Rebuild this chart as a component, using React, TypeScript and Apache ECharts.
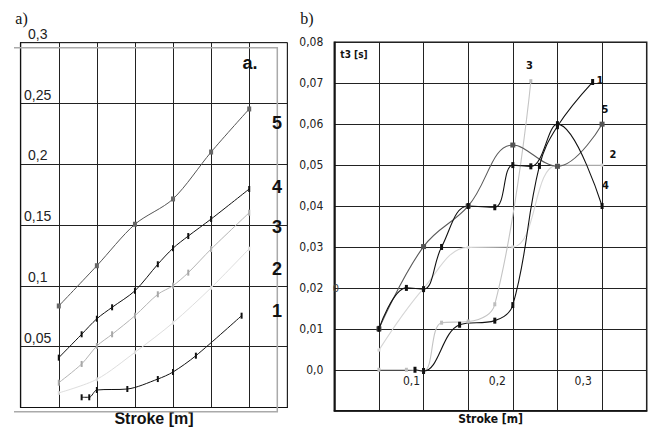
import React, { useEffect, useRef } from "react";
import * as echarts from "echarts";

// ---------- panel a) ----------
const leftX5 = [0.05, 0.1, 0.15, 0.2, 0.25, 0.3];
const left5 = [0.0835, 0.1166, 0.1507, 0.1715, 0.2101, 0.2455];
const leftX4 = [0.05, 0.08, 0.1, 0.12, 0.15, 0.18, 0.2, 0.22, 0.25, 0.3];
const left4 = [0.041, 0.0602, 0.073, 0.0824, 0.096, 0.1178, 0.131, 0.141, 0.155, 0.1797];
const leftX3 = [0.05, 0.08, 0.1, 0.12, 0.15, 0.18, 0.2, 0.22, 0.25, 0.3];
const left3 = [0.0204, 0.0358, 0.0506, 0.0602, 0.0755, 0.0931, 0.1002, 0.1109, 0.1303, 0.1602];
const leftX2 = [0.05, 0.1, 0.15, 0.2, 0.25, 0.3];
const left2 = [0.012, 0.0232, 0.0454, 0.0697, 0.0985, 0.1306];
const leftX1 = [0.08, 0.09, 0.1, 0.14, 0.18, 0.2, 0.23, 0.29];
const left1 = [0.0084, 0.0084, 0.0144, 0.0152, 0.0234, 0.0292, 0.0426, 0.0755];

// ---------- panel b) ----------
const rightX1 = [0.104, 0.114, 0.156, 0.197, 0.218, 0.249, 0.27, 0.311];
const right1 = [0, -0.0003, 0.011, 0.012, 0.0158, 0.0498, 0.0595, 0.0703];
const rightX2 = [0.062, 0.114, 0.166, 0.218, 0.27, 0.322];
const right2 = [0.0048, 0.0199, 0.0299, 0.03, 0.05, 0.05];
const rightX3 = [0.062, 0.094, 0.114, 0.135, 0.166, 0.197, 0.239];
const right3 = [0, 0, -0.0003, 0.0115, 0.0118, 0.016, 0.0705];
const rightX4 = [0.062, 0.094, 0.114, 0.135, 0.166, 0.197, 0.218, 0.239, 0.27, 0.322];
const right4 = [0.01, 0.02, 0.0197, 0.03, 0.04, 0.0397, 0.05, 0.0497, 0.06, 0.04];
const rightX5 = [0.062, 0.114, 0.166, 0.218, 0.27, 0.322];
const right5 = [0.01, 0.0301, 0.04, 0.0549, 0.0497, 0.06];

const rightXTicks = [0.1, 0.2, 0.3];
const seriesNames = ["1", "2", "3", "4", "5"];

const SANS = "'Liberation Sans', Arial, Helvetica, sans-serif";
const NARROW = "'Liberation Sans Narrow', 'Arial Narrow', 'DejaVu Sans Condensed', 'Liberation Sans', Arial, sans-serif";
const SERIF = "'Liberation Serif', 'Times New Roman', serif";

const zip = (xs: number[], ys: number[]) => xs.map((x, i) => [x, ys[i]]);

function App() {
  const ref = useRef<HTMLDivElement>(null);

  useEffect(() => {
    if (!ref.current) return;
    const chart = echarts.init(ref.current, null, { renderer: "svg" });

    const gridLine = { show: true, lineStyle: { color: "#222", width: 1 } };

    const mkLeft = (name: string, xs: number[], ys: number[], color: string, sym: number[], symColor: string, width = 1) => ({
      name,
      type: "line",
      xAxisIndex: 0,
      yAxisIndex: 0,
      data: zip(xs, ys),
      smooth: 0.3,
      symbol: "rect",
      symbolSize: sym,
      showSymbol: true,
      lineStyle: { color, width },
      itemStyle: { color: symColor },
      z: 3,
    });
    const mkRight = (name: string, xs: number[], ys: number[], color: string, sym: number[], symColor: string, width = 1.1) => ({
      name,
      type: "line",
      xAxisIndex: 2,
      yAxisIndex: 1,
      data: zip(xs, ys),
      smooth: 0.4,
      symbol: "rect",
      symbolSize: sym,
      showSymbol: true,
      lineStyle: { color, width },
      itemStyle: { color: symColor },
      z: 3,
    });

    const label = (text: string, x: number, y: number, font: string, fill = "#111") => ({
      type: "text",
      x,
      y,
      silent: true,
      style: { text, font, fill, textAlign: "center", textVerticalAlign: "middle", align: "center", verticalAlign: "middle" },
      z: 10,
    });

    chart.setOption({
      animation: false,
      backgroundColor: "#fff",
      grid: [
        {
          left: 20.7, top: 42.7, width: 266.6, height: 364.8, show: true,
          borderColor: "#222", borderWidth: 1, backgroundColor: "transparent",
          containLabel: false, outerBoundsMode: "none",
        },
        {
          left: 334.3, top: 42.3, width: 312.4, height: 368.4, show: true,
          borderColor: "#111", borderWidth: 1.5, backgroundColor: "transparent",
          containLabel: false, outerBoundsMode: "none",
        },
      ],
      xAxis: [
        {
          gridIndex: 0,
          type: "value",
          position: "bottom",
          min: 0,
          max: 0.35,
          interval: 0.05,
          axisLine: { show: true, onZero: false, lineStyle: { color: "#111", width: 1.2 } },
          axisTick: { show: false },
          axisLabel: { show: false },
          splitLine: gridLine,
          name: "Stroke [m]",
          nameLocation: "middle",
          nameGap: 3,
          nameTextStyle: { fontFamily: SANS, fontWeight: "bold", fontSize: 16, lineHeight: 15, color: "#111" },
        },
        {
          gridIndex: 1,
          type: "value",
          position: "bottom",
          min: 0,
          max: 7,
          interval: 1,
          axisLine: { show: true, onZero: false, lineStyle: { color: "#111", width: 1.5 } },
          axisTick: { show: false },
          axisLabel: { show: false },
          splitLine: gridLine,
          name: "Stroke [m]",
          nameLocation: "middle",
          nameGap: 2,
          nameTextStyle: { fontFamily: NARROW, fontWeight: "bold", fontSize: 12, lineHeight: 13, color: "#111" },
        },
        {
          gridIndex: 1,
          type: "value",
          position: "bottom",
          min: 0.01,
          max: 0.374,
          offset: -38,
          axisLine: { show: false, onZero: false },
          axisTick: { show: false },
          splitLine: { show: false },
          axisLabel: {
            show: true,
            customValues: rightXTicks,
            margin: 2,
            fontFamily: NARROW,
            fontSize: 12,
            color: "#222",
            formatter: (v: number) => v.toFixed(1).replace(".", ","),
          },
        },
      ],
      yAxis: [
        {
          gridIndex: 0,
          type: "value",
          min: 0,
          max: 0.3,
          interval: 0.05,
          axisLine: { show: true, lineStyle: { color: "#111", width: 1.2 } },
          axisTick: { show: false },
          splitLine: gridLine,
          axisLabel: {
            inside: true,
            margin: 17,
            align: "center",
            verticalAlign: "bottom",
            lineHeight: 18,
            fontFamily: SANS,
            fontSize: 14,
            color: "#222",
            formatter: (v: number) => (Math.abs(v) < 1e-9 ? "" : String(+v.toFixed(2)).replace(".", ",")),
          },
        },
        {
          gridIndex: 1,
          type: "value",
          min: -0.01,
          max: 0.08,
          interval: 0.01,
          axisLine: { show: true, lineStyle: { color: "#111", width: 1.5 } },
          axisTick: { show: false },
          splitLine: gridLine,
          axisLabel: {
            margin: 11,
            align: "right",
            fontFamily: NARROW,
            fontSize: 12,
            color: "#222",
            formatter: (v: number) => (v < -0.005 ? "" : Math.abs(v) < 1e-9 ? "0,0" : v.toFixed(2).replace(".", ",")),
          },
        },
      ],
      series: [
        mkLeft(seriesNames[4], leftX5, left5, "#555", [4, 5], "#666"),
        mkLeft(seriesNames[3], leftX4, left4, "#111", [2, 6], "#111"),
        mkLeft(seriesNames[2], leftX3, left3, "#b4b4b4", [2, 6], "#a8a8a8"),
        mkLeft(seriesNames[1], leftX2, left2, "#dedede", [2, 4], "#dedede"),
        mkLeft(seriesNames[0], leftX1, left1, "#111", [2, 6], "#111"),
        mkRight(seriesNames[1], rightX2, right2, "#d6d6d6", [3, 3], "#d6d6d6"),
        mkRight(seriesNames[2], rightX3, right3, "#c4c4c4", [3, 4], "#bdbdbd"),
        mkRight(seriesNames[4], rightX5, right5, "#5a5a5a", [5, 5], "#555"),
        mkRight(seriesNames[3], rightX4, right4, "#111", [3, 6], "#111"),
        mkRight(seriesNames[0], rightX1, right1, "#111", [3, 6], "#111"),
      ],
      graphic: [
        {
          type: "polyline",
          silent: true,
          shape: { points: [[14, 47.7], [277.3, 47.7], [277.3, 411.8], [14, 411.8]] },
          style: { stroke: "#aaa", lineWidth: 1.5, fill: null },
          z: 1,
        },
        label("a)", 21.5, 18, `16px ${SERIF}`),
        label("b)", 307, 18, `16px ${SERIF}`),
        label("a.", 250, 63, `bold 18px ${SANS}`),
        label("5", 277, 123, `bold 18px ${SANS}`),
        label("4", 277, 187, `bold 18px ${SANS}`),
        label("3", 277, 227, `bold 18px ${SANS}`),
        label("2", 277, 269, `bold 18px ${SANS}`),
        label("1", 277, 311, `bold 18px ${SANS}`),
        label("t3 [s]", 354, 54.5, `bold 10px ${NARROW}`),
        label("3", 529.5, 65, `bold 11px ${NARROW}`),
        label("1", 600, 80, `bold 11px ${NARROW}`),
        label("5", 605, 109, `bold 11px ${NARROW}`),
        label("2", 613, 154, `bold 11px ${NARROW}`),
        label("4", 605.5, 185, `bold 11px ${NARROW}`),
        label("0", 336, 288, `11px ${NARROW}`, "#444"),
      ],
    });

    return () => chart.dispose();
  }, []);

  return (
    <div
      ref={ref}
      style={{ position: "fixed", left: 0, top: 0, width: 651, height: 427, background: "#fff" }}
    />
  );
}

export default App;
